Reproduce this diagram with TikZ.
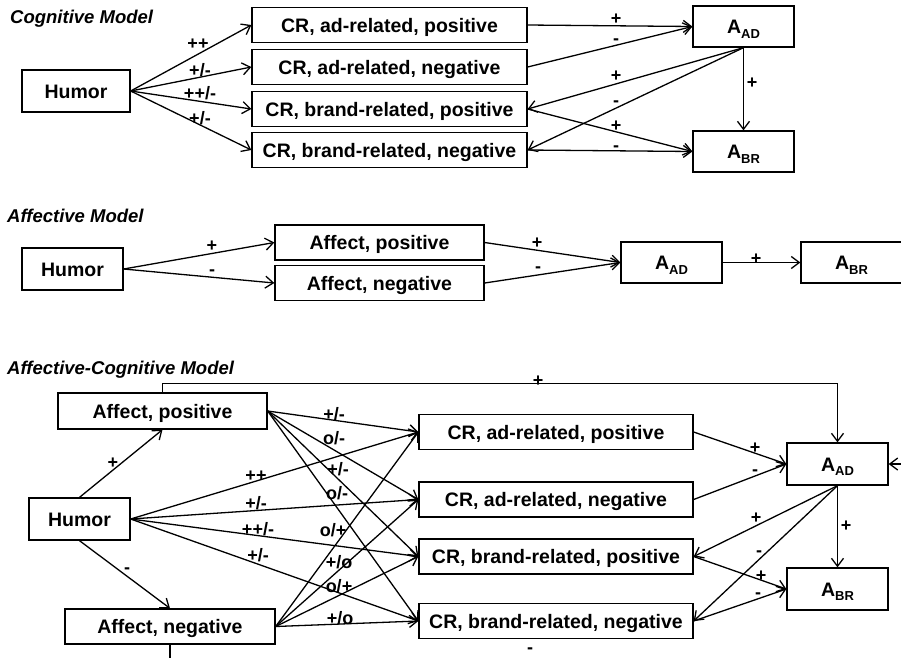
\documentclass[tikz,border=0pt]{standalone}
\usepackage{fontspec}
\setmainfont{Liberation Sans}
\usetikzlibrary{arrows.meta}
\newcommand{\mysub}[1]{\raisebox{-4.5pt}{\fontsize{13}{13}\selectfont #1}}
\begin{document}
\begin{tikzpicture}[x=1pt,y=-1pt,
  box/.style={draw, line width=1.3pt, inner sep=0pt, text height=14pt, text depth=0pt,
              font=\bfseries\fontsize{19.5}{20}\selectfont},
  cr/.style={box, minimum width=275pt, minimum height=35pt},
  ab/.style={box, minimum width=101pt, minimum height=41pt, text height=14pt, text depth=0pt},
  lbl/.style={inner sep=0pt, text height=12pt, text depth=0pt, font=\bfseries\fontsize{18}{18}\selectfont},
  ttl/.style={anchor=base west, inner sep=0pt, font=\bfseries\itshape\fontsize{18.5}{20}\selectfont},
  arr/.style={line width=1.3pt, -{Straight Barb[length=8pt,width=12pt]}},
  ln/.style={line width=1.3pt}]
\useasboundingbox (0,0) rectangle (901,657);

% ---------------- Cognitive Model ----------------
\node[ttl] (t1) at (10,23) {Cognitive Model};
\node[box, minimum width=108pt, minimum height=42pt] (h1) at (76,91) {Humor};
\node[cr] (c1) at (389.5,25) {CR, ad-related, positive};
\node[cr] (c2) at (389.5,67) {CR, ad-related, negative};
\node[cr] (c3) at (389.5,109) {CR, brand-related, positive};
\node[cr] (c4) at (389.5,150) {CR, brand-related, negative};
\node[ab] (ad1) at (743.5,26.5) {A\mysub{AD}};
\node[ab] (br1) at (743.5,151.5) {A\mysub{BR}};

\foreach \t in {c1,c2,c3,c4} \draw[arr] (h1.east) -- (\t.west);
\draw[arr] (c1.east) -- (ad1.west);
\draw[arr] (c2.east) -- (ad1.west);
\draw[arr] (ad1.south) -- (c3.east);
\draw[arr] (ad1.south) -- (c4.east);
\draw[arr] (c3.east) -- (br1.west);
\draw[arr] (c4.east) -- (br1.west);
\draw[arr] (ad1.south) -- (br1.north);

\node[lbl] (a1) at (198,43) {++};
\node[lbl] (a2) at (200,70) {+/-};
\node[lbl] (a3) at (200,93) {++/-};
\node[lbl] (a4) at (200,118) {+/-};
\node[lbl] (a5) at (616,18) {+};
\node[lbl] (a6) at (616,38) {-};
\node[lbl] (a7) at (616,75) {+};
\node[lbl] (a8) at (616,100) {-};
\node[lbl] (a9) at (616,125) {+};
\node[lbl] (a10) at (616,145) {-};
\node[lbl] (a11) at (752,82) {+};

% ---------------- Affective Model ----------------
\node[ttl] (t2) at (7,222) {Affective Model};
\node[box, minimum width=101pt, minimum height=42pt] (h2) at (72.5,269) {Humor};
\node[box, minimum width=209pt, minimum height=35pt] (ap2) at (379.5,242.5) {Affect, positive};
\node[box, minimum width=209pt, minimum height=35pt] (an2) at (379.5,283) {Affect, negative};
\node[ab] (ad2) at (671.5,262.5) {A\mysub{AD}};
\node[ab] (br2) at (851.5,262.5) {A\mysub{BR}};

\draw[arr] (h2.east) -- (ap2.west);
\draw[arr] (h2.east) -- (an2.west);
\draw[arr] (ap2.east) -- (ad2.west);
\draw[arr] (an2.east) -- (ad2.west);
\draw[arr] (ad2.east) -- (br2.west);

\node[lbl] (b1) at (212,245) {+};
\node[lbl] (b2) at (212,269) {-};
\node[lbl] (b3) at (537,242) {+};
\node[lbl] (b4) at (538,266) {-};
\node[lbl] (b5) at (756,258) {+};

% ---------------- Affective-Cognitive Model ----------------
\node[ttl] (t3) at (7,374) {Affective-Cognitive Model};
\node[box, minimum width=209pt, minimum height=36pt] (ap3) at (162.5,411) {Affect, positive};
\node[box, minimum width=101pt, minimum height=42pt] (h3) at (79.5,519) {Humor};
\node[box, minimum width=210pt, minimum height=35pt] (an3) at (170,626.5) {Affect, negative};
\node[cr, minimum width=274pt] (r1) at (556,432) {CR, ad-related, positive};
\node[cr, minimum width=274pt] (r2) at (556,499.5) {CR, ad-related, negative};
\node[cr, minimum width=274pt] (r3) at (556,556.5) {CR, brand-related, positive};
\node[cr, minimum width=274pt] (r4) at (556,621) {CR, brand-related, negative};
\node[ab, minimum height=42pt] (ad3) at (837.5,464) {A\mysub{AD}};
\node[ab, minimum height=42pt] (br3) at (837.5,589) {A\mysub{BR}};

\draw[arr] (ap3.north) -- ++(0,-9) -| (ad3.north);
\draw[arr] (h3.north) -- (ap3.south);
\draw[arr] (h3.south) -- (an3.north);
\foreach \t in {r1,r2,r3,r4} {
  \draw[arr] (h3.east) -- (\t.west);
  \draw[arr] (ap3.east) -- (\t.west);
  \draw[arr] (an3.east) -- (\t.west);
}
\draw[arr] (r1.east) -- (ad3.west);
\draw[arr] (r2.east) -- (ad3.west);
\draw[arr] (ad3.south) -- (r3.east);
\draw[arr] (ad3.south) -- (r4.east);
\draw[arr] (r3.east) -- (br3.west);
\draw[arr] (r4.east) -- (br3.west);
\draw[arr] (ad3.south) -- (br3.north);
\coordinate (rin) at (905,464);
\draw[arr] (rin) -- (ad3.east);
\coordinate (dn) at (170,662);
\draw[ln] (an3.south) -- (dn);

\node[lbl] (d0) at (538,380) {+};
\node[lbl] (d1) at (113,462) {+};
\node[lbl] (d2) at (127,567) {-};
\node[lbl] (d3) at (256,475) {++};
\node[lbl] (d4) at (256,503) {+/-};
\node[lbl] (d5) at (258,529) {++/-};
\node[lbl] (d6) at (258,555) {+/-};
\node[lbl] (d7) at (334,414) {+/-};
\node[lbl] (d8) at (334,438) {o/-};
\node[lbl] (d9) at (338,469) {+/-};
\node[lbl] (d10) at (337,493) {o/-};
\node[lbl] (d11) at (333,530) {o/+};
\node[lbl] (d12) at (339,562) {+/o};
\node[lbl] (d13) at (339,586) {o/+};
\node[lbl] (d14) at (340,618) {+/o};
\node[lbl] (d15) at (755,447) {+};
\node[lbl] (d16) at (755,469) {-};
\node[lbl] (d17) at (756,517) {+};
\node[lbl] (d18) at (759,550) {-};
\node[lbl] (d19) at (761,575) {+};
\node[lbl] (d20) at (758,592) {-};
\node[lbl] (d21) at (846,525) {+};
\node[lbl] (d22) at (530,647) {-};
\end{tikzpicture}
\end{document}
